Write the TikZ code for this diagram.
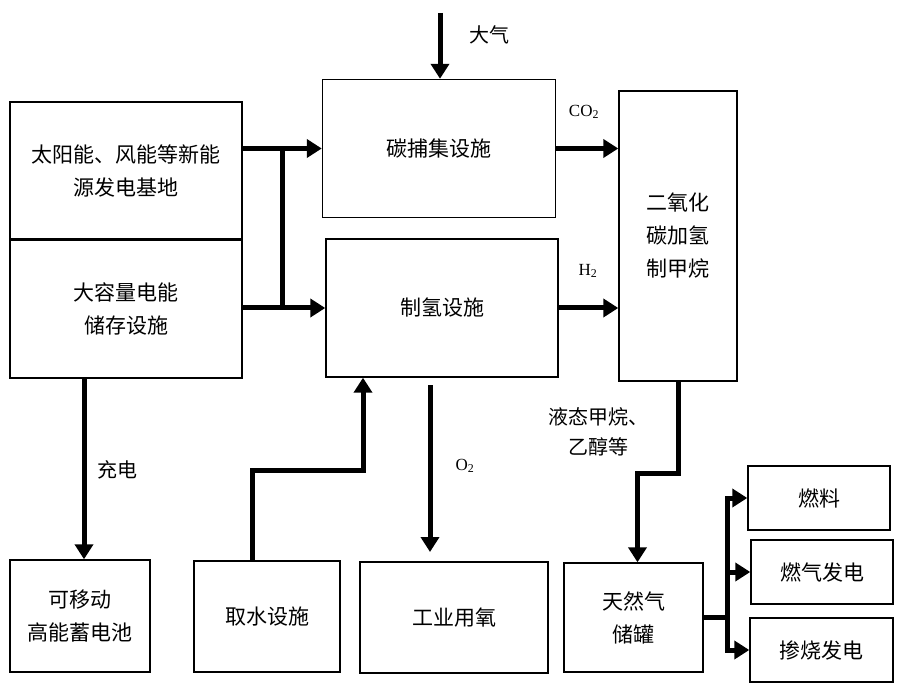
\documentclass[tikz,border=0pt]{standalone}
\usepackage{fontspec}
\setmainfont{Liberation Serif}
\newfontfamily\cjk{Noto Sans CJK SC}
\usetikzlibrary{arrows.meta}
\begin{document}
\begin{tikzpicture}[x=1pt,y=-1pt,
	box/.style={draw,line width=1.4pt,inner sep=0pt,align=center,font=\cjk\fontsize{21}{33}\selectfont},
	flow/.style={line width=5pt,-{Triangle[length=15pt,width=18pt]}},
	pipe/.style={line width=5pt},
	lbl/.style={align=center,font=\cjk\fontsize{20}{30}\selectfont},
	chem/.style={font=\fontsize{17}{17}\selectfont}]
	\useasboundingbox (0,0) rectangle (904,692);
	% boxes
	\node[box,minimum width=232pt,minimum height=138pt] (solar) at (126,171) {太阳能、风能等新能\\源发电基地};
	\node[box,minimum width=232pt,minimum height=139pt] (store) at (126,308.5) {大容量电能\\储存设施};
	\node[box,minimum width=233pt,minimum height=138pt] (capture) at (439,148.5) {碳捕集设施};
	\node[box,minimum width=232pt,minimum height=138pt] (hydro) at (442,308) {制氢设施};
	\node[box,minimum width=118pt,minimum height=290pt] (meth) at (678,236) {二氧化\\碳加氢\\制甲烷};
	\node[box,minimum width=140pt,minimum height=112pt] (battery) at (80,616) {可移动\\高能蓄电池};
	\node[box,minimum width=146pt,minimum height=111pt] (water) at (267,616.5) {取水设施};
	\node[box,minimum width=188pt,minimum height=111pt] (oxygen) at (454,617.5) {工业用氧};
	\node[box,minimum width=139pt,minimum height=109pt] (tank) at (633.5,617.5) {天然气\\储罐};
	\node[box,minimum width=142pt,minimum height=64pt] (fuel) at (819,498) {燃料};
	\node[box,minimum width=142pt,minimum height=64pt] (gaspow) at (822,572) {燃气发电};
	\node[box,minimum width=143pt,minimum height=64pt] (cofire) at (821.5,650) {掺烧发电};
	% free ends
	\coordinate (air) at (440,13);
	\coordinate (bus) at (282,148.5);
	\coordinate (w1) at (363,470);
	\coordinate (o1) at (430,385);
	\coordinate (o2) at (430,552);
	\coordinate (split) at (727,617.5);
	% connectors
	\draw[flow] (air) -- (air |- capture.north);
	\draw[flow] (solar.east |- capture.west) -- (capture.west);
	\draw[flow] (store.east |- hydro.west) -- (hydro.west);
	\draw[pipe] (bus) -- (bus |- hydro.west);
	\draw[flow] (capture.east) -- (meth.west |- capture.east);
	\draw[flow] (hydro.east) -- (meth.west |- hydro.east);
	\draw[flow] (meth.south) -- ++(0,92) -| ([xshift=4pt]tank.north);
	\draw[flow] ([xshift=-15pt]water.north) |- (w1) -- (w1 |- hydro.south);
	\draw[flow] (o1) -- (o2);
	\draw[flow] ([xshift=-42pt]store.south) -- ([xshift=-42pt]store.south |- battery.north);
	\draw[pipe] (tank.east) -- (split);
	\draw[flow] (split) |- (fuel.west);
	\draw[flow] (split) |- (cofire.west);
	\draw[flow] (split |- gaspow.west) -- (gaspow.west);
	% labels
	\node[lbl] (airlbl) at (489,35) {大气};
	\node[lbl] (chglbl) at (117,470) {充电};
	\node[lbl] (liqlbl) at (598,432) {液态甲烷、\\乙醇等};
	\node[chem] (co2lbl) at (584,112) {CO\textsubscript{2}};
	\node[chem] (h2lbl) at (588,271) {H\textsubscript{2}};
	\node[chem] (o2lbl) at (465,466) {O\textsubscript{2}};
\end{tikzpicture}
\end{document}
